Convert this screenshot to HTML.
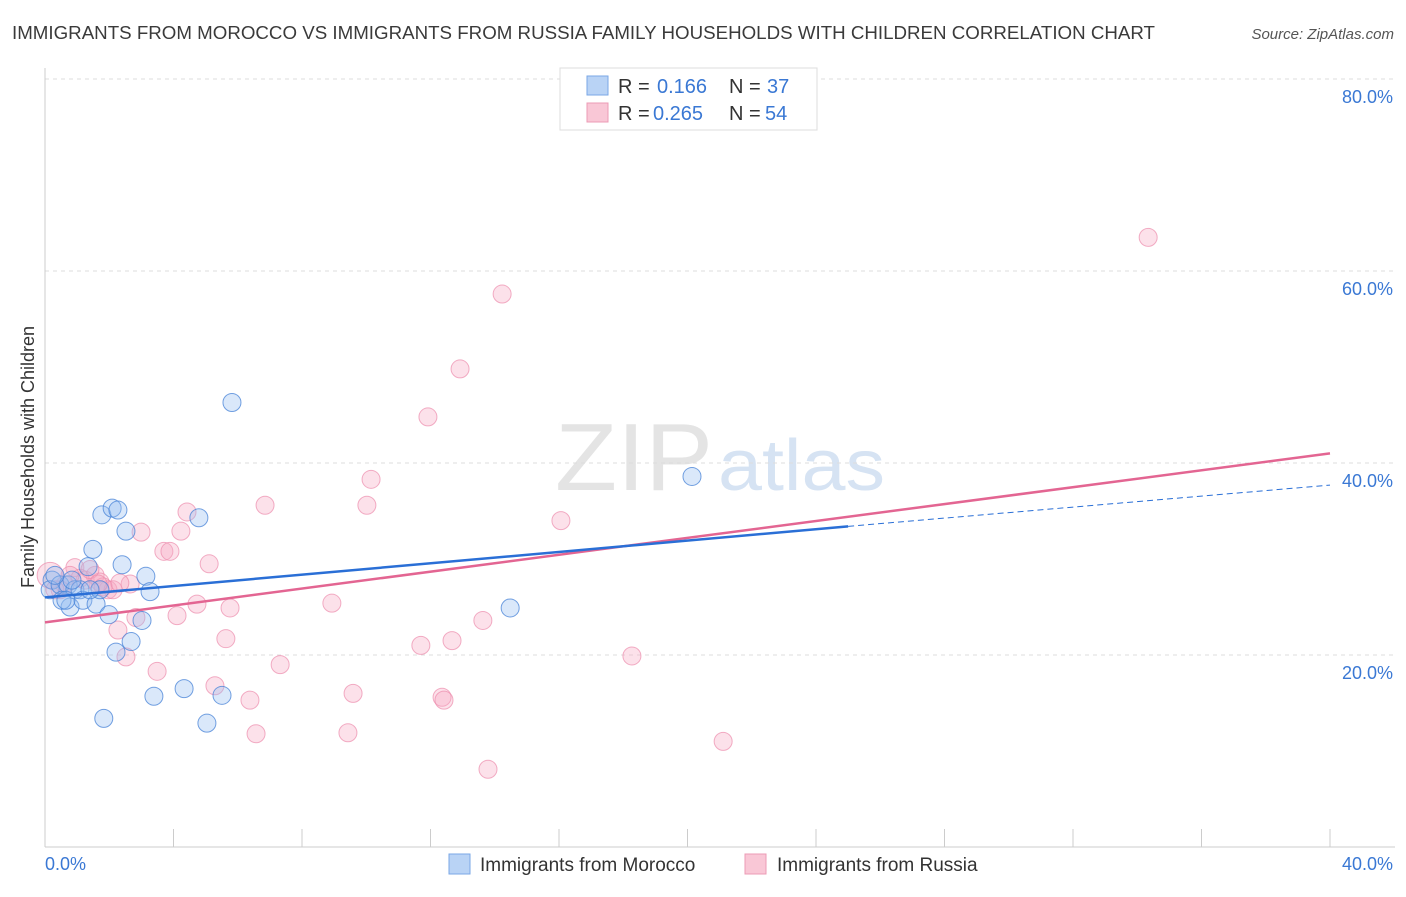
<!DOCTYPE html>
<html><head><meta charset="utf-8">
<style>
body{margin:0;background:#fff;font-family:"Liberation Sans",sans-serif;}
svg text{font-family:"Liberation Sans",sans-serif;}
</style></head>
<body>
<svg id="chart" width="1406" height="892" xmlns="http://www.w3.org/2000/svg">
<text x="12" y="39" font-size="18" fill="#3a3a3a" textLength="1143" lengthAdjust="spacingAndGlyphs">IMMIGRANTS FROM MOROCCO VS IMMIGRANTS FROM RUSSIA FAMILY HOUSEHOLDS WITH CHILDREN CORRELATION CHART</text>
<text x="1394" y="39" font-size="15" fill="#555" text-anchor="end" font-style="italic">Source: ZipAtlas.com</text>
<text x="555" y="490" font-size="96" fill="#e4e4e4" textLength="158" lengthAdjust="spacingAndGlyphs" font-family="Liberation Serif">ZIP</text>
<text x="718" y="490" font-size="72" fill="#d6e3f3" textLength="167" lengthAdjust="spacingAndGlyphs">atlas</text>
<g id="grid"></g>
<g id="axes"></g>
<g id="marks"></g>
<g id="legend">
<rect x="560" y="68" width="257" height="62" fill="#fff" stroke="#ddd"/>
<rect x="587" y="76" width="21" height="19" fill="#b9d3f5" stroke="#7aa7e6"/>
<rect x="587" y="103" width="21" height="19" fill="#f9c7d6" stroke="#ec9bb5"/>
<text x="618" y="93" font-size="20" fill="#333">R = </text><text x="657" y="93" font-size="20" fill="#3a78d4">0.166</text>
<text x="729" y="93" font-size="20" fill="#333">N = </text><text x="767" y="93" font-size="20" fill="#3a78d4">37</text>
<text x="618" y="120" font-size="20" fill="#333">R = </text><text x="653" y="120" font-size="20" fill="#3a78d4">0.265</text>
<text x="729" y="120" font-size="20" fill="#333">N = </text><text x="765" y="120" font-size="20" fill="#3a78d4">54</text>
</g>
<g>
<rect x="449" y="854" width="21" height="20" fill="#b9d3f5" stroke="#7aa7e6"/>
<text x="480" y="871" font-size="19" fill="#333">Immigrants from Morocco</text>
<rect x="745" y="854" width="21" height="20" fill="#f9c7d6" stroke="#ec9bb5"/>
<text x="777" y="871" font-size="19" fill="#333">Immigrants from Russia</text>
</g>
<text transform="translate(34,457) rotate(-90)" font-size="18" fill="#333" text-anchor="middle">Family Households with Children</text>
</svg>
<script>
const yTicks=[20,40,60,80];
const yTickLabels=["20.0%","40.0%","60.0%","80.0%"];
const xTicks=[0,4,8,12,16,20,24,28,32,36,40];
const moroccoX=[0.22,0.16,0.47,0.72,0.78,0.93,1.09,1.18,1.34,1.49,1.59,1.77,1.83,1.99,2.09,2.27,2.21,2.40,2.52,2.68,3.02,3.14,3.27,3.39,4.33,4.79,5.04,5.51,5.82,14.48,20.14,0.53,0.84,0.31,1.71,1.40,0.65];
const moroccoY=[27.8,26.8,27.3,27.3,25.0,26.8,26.8,25.7,29.2,31.0,25.3,34.6,13.4,24.2,35.3,35.1,20.3,29.4,32.9,21.4,23.6,28.2,26.6,15.7,16.5,34.3,12.9,15.8,46.3,24.9,38.6,25.7,27.8,28.3,26.8,26.8,25.7];
const russiaX=[0.16,0.47,0.93,1.25,1.56,1.71,1.96,2.12,2.27,2.52,2.65,2.83,2.99,3.49,3.70,3.89,4.11,4.23,4.42,4.73,5.11,5.29,5.63,5.76,6.38,6.57,6.85,7.32,8.93,9.43,9.59,10.02,10.15,11.70,11.92,12.36,12.42,12.67,12.92,13.63,13.79,14.23,16.06,18.27,21.11,34.34,0.62,1.09,1.40,1.81,0.78,1.65,0.31,2.33];
const russiaY=[28.3,26.8,29.1,27.8,28.3,27.6,26.8,26.8,22.6,19.8,27.4,23.9,32.8,18.3,30.8,30.8,24.1,32.9,34.9,25.3,29.5,16.8,21.7,24.9,15.3,11.8,35.6,19.0,25.4,11.9,16.0,35.6,38.3,21.0,44.8,15.6,15.3,21.5,49.8,23.6,8.1,57.6,34.0,19.9,11.0,63.5,27.3,28.0,28.9,27.1,28.3,27.4,26.8,27.5];
const moroccoTrend=[26.0,33.4,37.7];
const russiaTrend=[23.4,41.0];
const NS="http://www.w3.org/2000/svg";
const X=v=>45+v/40*1285, Y=v=>847-v/20*192;
function mk(t,a,p){const e=document.createElementNS(NS,t);for(const k in a)e.setAttribute(k,a[k]);p.appendChild(e);return e;}
const grid=document.getElementById('grid'),axes=document.getElementById('axes'),marks=document.getElementById('marks');
yTicks.forEach((t,i)=>{
 const l=mk('line',{x1:45,x2:1395,y1:Y(t),y2:Y(t),stroke:'#ddd','stroke-dasharray':'4,4'},grid);
 
 
 const tx=mk('text',{x:1393,y:Y(t)+24,'font-size':18,fill:'#3a78d4','text-anchor':'end'},axes);
 tx.textContent=yTickLabels[i];
 
 
});
let a=mk('line',{x1:45,x2:45,y1:68,y2:847,stroke:'#ccc'},axes);


a=mk('line',{x1:45,x2:1395,y1:847,y2:847,stroke:'#ccc'},axes);


xTicks.forEach(t=>{const l=mk('line',{x1:X(t),x2:X(t),y1:829,y2:847,stroke:'#ccc'},axes);
 
 });
let t0=mk('text',{x:45,y:870,'font-size':18,fill:'#3a78d4'},axes);t0.textContent='0.0%';


let t1=mk('text',{x:1393,y:870,'font-size':18,fill:'#3a78d4','text-anchor':'end'},axes);t1.textContent='40.0%';


russiaX.forEach((x,i)=>{const c=mk('circle',{cx:X(x),cy:Y(russiaY[i]),r:i==0?13:9,fill:'rgba(246,170,195,0.35)',stroke:'rgba(236,140,172,0.7)','stroke-width':1},marks);
 
 });
moroccoX.forEach((x,i)=>{const c=mk('circle',{cx:X(x),cy:Y(moroccoY[i]),r:9,fill:'rgba(150,190,240,0.35)',stroke:'rgba(70,130,215,0.75)','stroke-width':1},marks);
 
 });
let ln=mk('line',{x1:X(0),y1:Y(russiaTrend[0]),x2:X(40),y2:Y(russiaTrend[1]),stroke:'#e36592','stroke-width':2.5},marks);


ln=mk('line',{x1:X(0),y1:Y(moroccoTrend[0]),x2:X(25),y2:Y(moroccoTrend[1]),stroke:'#2a6fd6','stroke-width':2.5},marks);


ln=mk('line',{x1:X(25),y1:Y(moroccoTrend[1]),x2:X(40),y2:Y(moroccoTrend[2]),stroke:'#2a6fd6','stroke-width':1,'stroke-dasharray':'6,4'},marks);


</script>
</body></html>
